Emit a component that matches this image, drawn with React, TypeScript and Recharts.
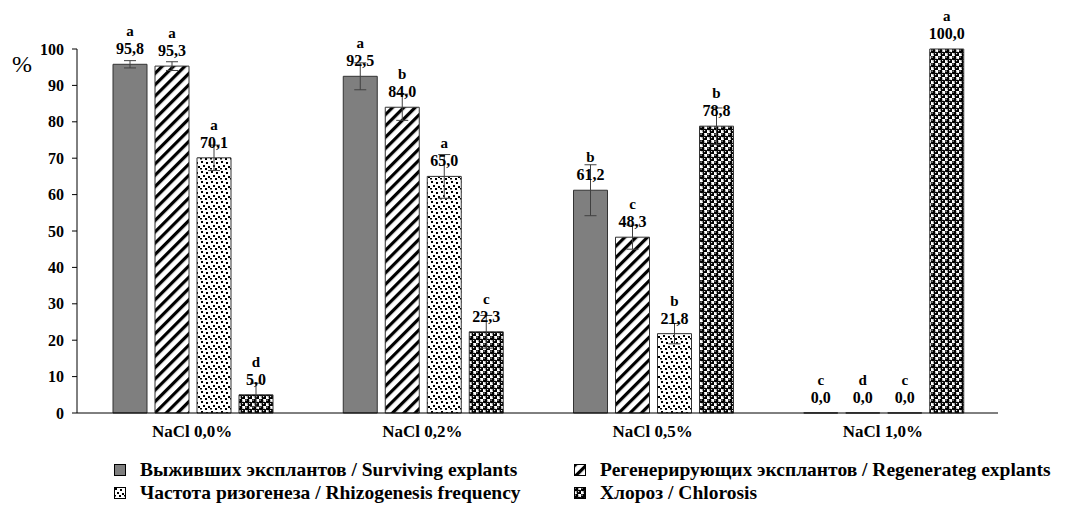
import React from 'react';
import { BarChart, Bar, XAxis, YAxis, ErrorBar, LabelList } from 'recharts';

const categories = ['NaCl 0,0%', 'NaCl 0,2%', 'NaCl 0,5%', 'NaCl 1,0%'];

const surviving = [95.8, 92.5, 61.2, 0];
const survivingErr = [1, 3.7, 7, 0];
const survivingLetters = ['a', 'a', 'b', 'c'];

const regenerating = [95.3, 84.0, 48.3, 0];
const regeneratingErr = [1.2, 3.6, 3.3, 0];
const regeneratingLetters = ['a', 'b', 'c', 'd'];

const rhizogenesis = [70.1, 65.0, 21.8, 0];
const rhizogenesisErr = [3.5, 6, 2.8, 0];
const rhizogenesisLetters = ['a', 'a', 'b', 'c'];

const chlorosis = [5.0, 22.3, 78.8, 100];
const chlorosisErr = [3.2, 4.5, 5, 0];
const chlorosisLetters = ['d', 'c', 'b', 'a'];

const yTicks = [0, 10, 20, 30, 40, 50, 60, 70, 80, 90, 100];
const boundaryTicks = [1, 2, 3, 4];

const chartData = categories.map((name, i) => ({
  name,
  surviving: surviving[i],
  survivingErr: survivingErr[i],
  regenerating: regenerating[i],
  regeneratingErr: regeneratingErr[i],
  rhizogenesis: rhizogenesis[i],
  rhizogenesisErr: rhizogenesisErr[i],
  chlorosis: chlorosis[i],
  chlorosisErr: chlorosisErr[i],
}));

const font = "'Liberation Serif', 'Liberation Sans', sans-serif";

const fmt = (v: number) => v.toFixed(1).replace('.', ',');

const makeLabel = (letters: string[]) => (props: any) => {
  const { x, y, width, value, index } = props;
  const cx = Number(x) + Number(width) / 2;
  return (
    <g>
      <text x={cx} y={Number(y) - 28} textAnchor="middle" style={{ fontFamily: font }} fontWeight="bold" fontSize={15} fill="#000">
        {letters[index]}
      </text>
      <text x={cx} y={Number(y) - 10} textAnchor="middle" style={{ fontFamily: font }} fontWeight="bold" fontSize={16} fill="#000">
        {fmt(Number(value))}
      </text>
    </g>
  );
};

function Patterns() {
  return (
    <svg width={0} height={0} style={{ position: 'absolute' }}>
      <defs>
        <pattern id="hatch" width={8} height={8} patternUnits="userSpaceOnUse" patternTransform="rotate(45)">
          <rect width={8} height={8} fill="#fff" />
          <rect x={0} y={0} width={3.2} height={8} fill="#000" />
        </pattern>
        <pattern id="dots" width={10} height={10} patternUnits="userSpaceOnUse">
          <rect width={10} height={10} fill="#fff" />
          <rect x={1} y={1} width={2} height={2} fill="#000" />
          <rect x={6} y={2} width={2} height={2} fill="#000" />
          <rect x={3} y={5} width={2} height={2} fill="#000" />
          <rect x={8} y={6} width={2} height={2} fill="#000" />
          <rect x={0} y={8} width={2} height={1.5} fill="#000" />
          <rect x={5} y={8} width={2} height={2} fill="#000" />
        </pattern>
        <pattern id="balls" width={7} height={7} patternUnits="userSpaceOnUse">
          <rect width={7} height={7} fill="#fff" />
          <circle cx={1.75} cy={1.75} r={2.6} fill="#000" />
          <circle cx={5.25} cy={5.25} r={2.6} fill="#000" />
          <circle cx={1.1} cy={1.1} r={0.7} fill="#fff" />
          <circle cx={4.6} cy={4.6} r={0.7} fill="#fff" />
        </pattern>
      </defs>
    </svg>
  );
}

const legendItems = [
  { label: 'Выживших эксплантов / Surviving explants', fill: '#7f7f7f', left: 114, top: 459 },
  { label: 'Регенерирующих эксплантов / Regenerateg explants', fill: 'url(#hatch)', left: 574, top: 459 },
  { label: 'Частота ризогенеза / Rhizogenesis frequency', fill: 'url(#dots)', left: 114, top: 482 },
  { label: 'Хлороз / Chlorosis', fill: 'url(#balls)', left: 574, top: 482 },
];

export default function App() {
  return (
    <div style={{ position: 'absolute', left: 0, top: 0, width: 1067, height: 508, background: '#fff', fontFamily: font }}>
      <Patterns />
      <div style={{ position: 'absolute', left: 12, top: 52, fontFamily: font, fontSize: 24, lineHeight: '24px' }}>%</div>
      <BarChart
        width={1067}
        height={445}
        data={chartData}
        margin={{ top: 49, right: 69, left: 0, bottom: 0 }}
        barGap={8}
        barCategoryGap={36}
        style={{ fontFamily: font }}
      >
        <XAxis
          xAxisId="grid"
          type="number"
          domain={[0, 4]}
          ticks={boundaryTicks}
          height={0}
          axisLine={false}
          tickLine={{ stroke: '#000' }}
          tickSize={5}
          tick={() => <text />}
          allowDataOverflow
        />
        <XAxis
          xAxisId="cat"
          dataKey="name"
          height={32}
          axisLine={{ stroke: '#000' }}
          tickLine={false}
          tickMargin={6}
          tick={{ fontFamily: font, fontWeight: 'bold', fontSize: 17, fill: '#000' }}
        />
        <YAxis
          domain={[0, 100]}
          ticks={yTicks}
          width={77}
          axisLine={{ stroke: '#000' }}
          tickLine={{ stroke: '#000' }}
          tickSize={5}
          tickMargin={8}
          tick={{ fontFamily: font, fontWeight: 'bold', fontSize: 16, fill: '#000' }}
        />
        <Bar xAxisId="cat" dataKey="surviving" fill="#7f7f7f" stroke="#333" strokeWidth={1} minPointSize={0.1} isAnimationActive={false}>
          <ErrorBar dataKey="survivingErr" width={6} stroke="#404040" strokeWidth={1} direction="y" />
          <LabelList dataKey="surviving" content={makeLabel(survivingLetters)} />
        </Bar>
        <Bar xAxisId="cat" dataKey="regenerating" fill="url(#hatch)" stroke="#333" strokeWidth={1} minPointSize={0.1} isAnimationActive={false}>
          <ErrorBar dataKey="regeneratingErr" width={6} stroke="#404040" strokeWidth={1} direction="y" />
          <LabelList dataKey="regenerating" content={makeLabel(regeneratingLetters)} />
        </Bar>
        <Bar xAxisId="cat" dataKey="rhizogenesis" fill="url(#dots)" stroke="#333" strokeWidth={1} minPointSize={0.1} isAnimationActive={false}>
          <ErrorBar dataKey="rhizogenesisErr" width={6} stroke="#404040" strokeWidth={1} direction="y" />
          <LabelList dataKey="rhizogenesis" content={makeLabel(rhizogenesisLetters)} />
        </Bar>
        <Bar xAxisId="cat" dataKey="chlorosis" fill="url(#balls)" stroke="#333" strokeWidth={1} isAnimationActive={false}>
          <ErrorBar dataKey="chlorosisErr" width={6} stroke="#404040" strokeWidth={1} direction="y" />
          <LabelList dataKey="chlorosis" content={makeLabel(chlorosisLetters)} />
        </Bar>
      </BarChart>
      {legendItems.map((it) => (
        <div
          key={it.label}
          style={{
            position: 'absolute',
            left: it.left,
            top: it.top,
            height: 22,
            display: 'flex',
            alignItems: 'center',
            fontFamily: font,
            fontWeight: 'bold',
            fontSize: 19.5,
            whiteSpace: 'nowrap',
          }}
        >
          <svg width={12} height={12} style={{ marginRight: 14 }}>
            <rect x={0.5} y={0.5} width={11} height={11} fill={it.fill} stroke="#000" strokeWidth={1} />
          </svg>
          {it.label}
        </div>
      ))}
    </div>
  );
}
